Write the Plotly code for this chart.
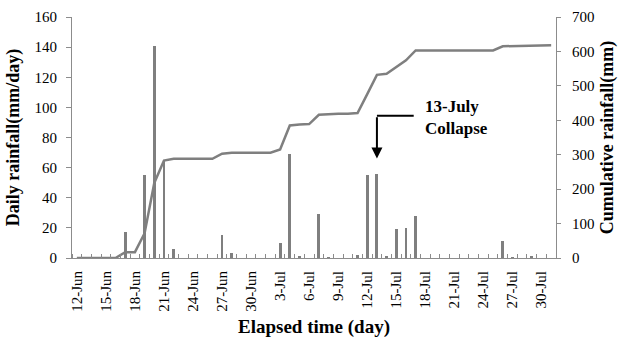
import plotly.graph_objects as go

dates = ["12-Jun", "13-Jun", "14-Jun", "15-Jun", "16-Jun", "17-Jun", "18-Jun", "19-Jun", "20-Jun", "21-Jun",
         "22-Jun", "23-Jun", "24-Jun", "25-Jun", "26-Jun", "27-Jun", "28-Jun", "29-Jun", "30-Jun", "1-Jul",
         "2-Jul", "3-Jul", "4-Jul", "5-Jul", "6-Jul", "7-Jul", "8-Jul", "9-Jul", "10-Jul", "11-Jul",
         "12-Jul", "13-Jul", "14-Jul", "15-Jul", "16-Jul", "17-Jul", "18-Jul", "19-Jul", "20-Jul", "21-Jul",
         "22-Jul", "23-Jul", "24-Jul", "25-Jul", "26-Jul", "27-Jul", "28-Jul", "29-Jul", "30-Jul", "31-Jul"]

daily = [0, 0, 0, 0, 0, 17, 0, 55, 141, 65,
         6, 0, 0, 0, 0, 15, 3, 0, 0, 0,
         0, 10, 69, 1, 0, 29, 0.5, 0, 0, 2,
         55, 56, 1, 19, 20, 28, 0, 0, 0, 0,
         0, 0, 0, 0, 11, 0.5, 0, 1, 0, 0]

cumulative = [0, 0, 0, 0, 0, 17, 17, 72, 218, 283,
              288, 288, 288, 288, 288, 303, 306, 306, 306, 306,
              306, 315, 385, 388, 389, 416, 418, 419, 419, 421,
              476, 532, 535, 555, 574, 603, 603, 603, 603, 603,
              603, 603, 603, 603, 615, 616, 616, 617, 618, 618]

label_every = 3
collapse_day = "13-Jul"

idx = list(range(len(dates)))
tickvals = idx[::label_every]
ticktext = dates[::label_every]

GRAY = "#7f7f7f"
AXIS = "#8c8c8c"
FONT = "serif"

fig = go.Figure()
fig.add_trace(go.Bar(x=idx, y=daily, width=0.3, marker=dict(color=GRAY, line=dict(width=0)),
                     yaxis="y", showlegend=False))
fig.add_trace(go.Scatter(x=idx, y=cumulative, mode="lines", line=dict(color=GRAY, width=2.5),
                         yaxis="y2", showlegend=False))

cx = dates.index(collapse_day)

# bent arrow: horizontal segment + vertical arrow
fig.add_shape(type="line", xref="x", yref="y", x0=cx, x1=cx + 3.8, y0=94.5, y1=94.5,
              line=dict(color="black", width=2))
fig.add_annotation(x=cx, y=66, ax=cx, ay=94.5, xref="x", yref="y", axref="x", ayref="y",
                   text="", showarrow=True, arrowhead=2, arrowsize=1.1, arrowwidth=2, arrowcolor="black")
fig.add_annotation(x=cx + 4.8, y=93.5, xref="x", yref="y", text="<b>13-July<br>Collapse</b>",
                   showarrow=False, xanchor="left", yanchor="middle", align="left",
                   font=dict(family=FONT, size=17, color="black"))

fig.update_layout(
    width=622, height=340,
    margin=dict(l=72, r=66, t=17, b=82, autoexpand=False),
    plot_bgcolor="white", paper_bgcolor="white",
    font=dict(family=FONT, size=15, color="black"),
    bargap=0,
    xaxis=dict(
        range=[-0.5, 49.5], tickmode="array", tickvals=tickvals, ticktext=ticktext,
        tickangle=-90, ticks="", showgrid=False, zeroline=False, automargin=False,
        showline=True, linecolor=AXIS, linewidth=1,
        ticklabelstandoff=6,
        minor=dict(tickmode="linear", tick0=-0.5, dtick=1, ticks="inside", ticklen=4,
                   tickcolor=AXIS, tickwidth=1, showgrid=False),
        title=dict(text="<b>Elapsed time (day)</b>", font=dict(family=FONT, size=19), standoff=8),
    ),
    yaxis=dict(
        range=[0, 160], dtick=20, showgrid=False, zeroline=False, automargin=False,
        showline=True, linecolor=AXIS, linewidth=1, ticks="outside", ticklen=5, tickcolor=AXIS,
        ticklabelstandoff=6,
        title=dict(text="<b>Daily rainfall(mm/day)</b>", font=dict(family=FONT, size=18), standoff=10),
    ),
    yaxis2=dict(
        range=[0, 700], dtick=100, overlaying="y", side="right", anchor="x",
        showgrid=False, zeroline=False, automargin=False,
        showline=True, linecolor=AXIS, linewidth=1, ticks="outside", ticklen=4, tickcolor=AXIS,
        ticklabelstandoff=8,
        title=dict(text="<b>Cumulative rainfall(mm)</b>", font=dict(family=FONT, size=18), standoff=6),
    ),
)

fig.write_html("out.html")
